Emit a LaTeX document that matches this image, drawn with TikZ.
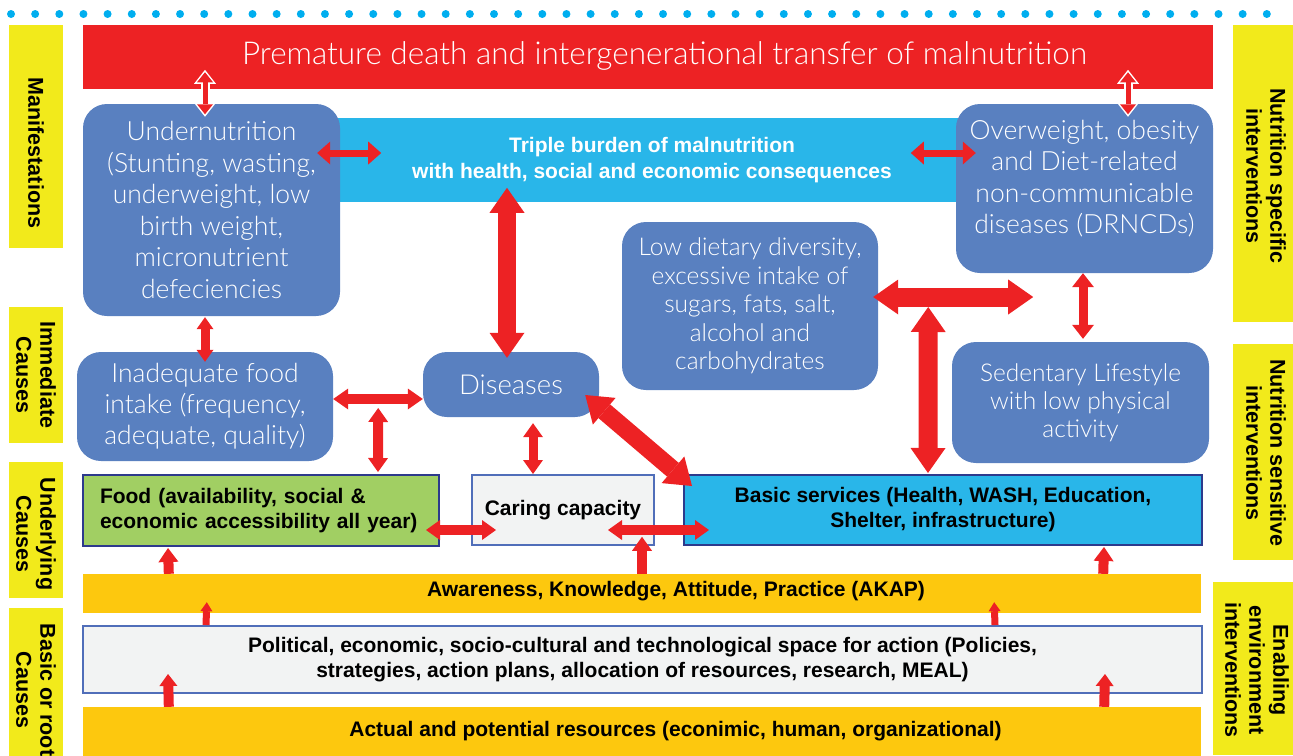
\documentclass[tikz,border=0pt]{standalone}
\usepackage{fontspec}
\setmainfont{Liberation Sans}
\newfontfamily\thinfont{Lato}[UprightFont=* Light]
\usetikzlibrary{arrows.meta,calc}

\definecolor{mred}{RGB}{237,34,36}
\definecolor{mblue}{RGB}{89,128,192}
\definecolor{mcyan}{RGB}{41,182,233}
\definecolor{mgreen}{RGB}{161,207,99}
\definecolor{mgrey}{RGB}{242,243,243}
\definecolor{myellow}{RGB}{242,234,27}
\definecolor{mgold}{RGB}{253,200,14}
\definecolor{mnavy}{RGB}{45,58,140}
\definecolor{medge}{RGB}{80,110,185}
\definecolor{mdot}{RGB}{0,174,239}

\newcommand\thinsize[2]{\thinfont\fontsize{#1}{#2}\selectfont}
\newcommand\boldsize[2]{\bfseries\fontsize{#1}{#2}\selectfont}

\tikzset{
  mbox/.style={fill=mblue, rounded corners=24pt, text=white, align=center, inner sep=0pt},
  mtext/.style={text=white, align=center, inner sep=0pt},
  ylab/.style={fill=myellow, inner sep=0pt},
  ylabtext/.style={rotate=-90, align=center, inner sep=0pt, font=\boldsize{21.5}{24}},
  bar/.style={fill=mgold, inner sep=0pt},
  btext/.style={align=center, inner sep=0pt, font=\boldsize{21}{25}},
  dbl/.style n args={3}{draw=mred, line width=#1,
    {Triangle[width=#2,length=#3,line width=0pt]}-{Triangle[width=#2,length=#3,line width=0pt]}},
  sgl/.style n args={3}{draw=mred, line width=#1,
    -{Triangle[width=#2,length=#3,line width=0pt]}},
  halo/.style={draw=white, line width=9pt,
    {Triangle[width=22pt,length=14pt,line width=0pt]}-{Triangle[width=22pt,length=14pt,line width=0pt]}},
}

\begin{document}
\begin{tikzpicture}[x=1pt,y=-1pt]
\useasboundingbox (0,0) rectangle (1293,755);

% dotted rule along the top
\foreach \i in {0,...,52}
  \fill[mdot] (11+\i*24.15,14) circle (4pt);

% level labels, left
\node[ylab, minimum width=54pt, minimum height=223pt] (l1) at (36,136.5) {};
\node[ylabtext] (l1t) at (36,153) {Manifestations};
\node[ylab, minimum width=54pt, minimum height=136pt] (l2) at (36,375) {};
\node[ylabtext] (l2t) at (36,375) {Immediate\\Causes};
\node[ylab, minimum width=54pt, minimum height=136pt] (l3) at (36,530) {};
\node[ylabtext] (l3t) at (36,534) {Underlying\\Causes};
\node[ylab, minimum width=54pt, minimum height=150pt] (l4) at (36,683) {};
\node[ylabtext] (l4t) at (36,690) {Basic or root\\Causes};

% intervention labels, right
\node[ylab, minimum width=62pt, minimum height=297pt] (r1) at (1264,173.5) {};
\node[ylabtext] (r1t) at (1266,176) {Nutrition specific\\interventions};
\node[ylab, minimum width=62pt, minimum height=216pt] (r2) at (1264,452) {};
\node[ylabtext] (r2t) at (1266,453) {Nutrition sensitive\\interventions};
\node[ylab, minimum width=82pt, minimum height=173pt] (r3) at (1254,668.5) {};
\node[ylabtext] (r3t) at (1257,670) {Enabling\\environment\\interventions};

% top outcome bar
\node[fill=mred, inner sep=0pt, minimum width=1130pt, minimum height=64pt] (top) at (648,57) {};
\node[mtext, font=\thinsize{31.5}{36}] (toptext) at (664.5,56) {Premature death and intergenerational transfer of malnutrition};

% triple burden band
\node[fill=mcyan, inner sep=0pt, minimum width=640pt, minimum height=84pt,
      text=white, align=center, font=\boldsize{21}{26}] (triple) at (652,160)
  {Triple burden of malnutrition\\with health, social and economic consequences};

% manifestation and immediate-cause boxes
\node[mbox, minimum width=257pt, minimum height=212pt, font=\thinsize{26.5}{31.5}] (under) at (211.5,210)
  {Undernutrition\\(Stunting, wasting,\\underweight, low\\birth weight,\\micronutrient\\defeciencies};
\node[mbox, minimum width=257pt, minimum height=169pt] (over) at (1084.5,188.5) {};
\node[mtext, font=\thinsize{26.5}{31.5}] (overtext) at (1084.5,178.5)
  {Overweight, obesity\\and Diet-related\\non-communicable\\diseases (DRNCDs)};
\node[mbox, minimum width=256pt, minimum height=168pt, font=\thinsize{24.5}{28.5}] (lowdiet) at (750,306)
  {Low dietary diversity,\\excessive intake of\\sugars, fats, salt,\\alcohol and\\carbohydrates};
\node[mbox, minimum width=257pt, minimum height=121pt, font=\thinsize{24.5}{28}] (sed) at (1080.5,402.5)
  {Sedentary Lifestyle\\with low physical\\activity};
\node[mbox, minimum width=256pt, minimum height=109pt, font=\thinsize{26.5}{31}] (inad) at (205,406.5)
  {Inadequate food\\intake (frequency,\\adequate, quality)};
\node[mbox, minimum width=176pt, minimum height=65pt, font=\thinsize{27.5}{30}] (dis) at (511,384.5) {Diseases};

% underlying causes
\node[draw=mnavy, line width=2pt, fill=mgreen, minimum width=356pt, minimum height=71pt,
      inner ysep=0pt, inner xsep=17pt, text width=322pt, align=left, font=\boldsize{21}{25}] (food) at (261,510.5)
  {Food (availability, social \&\\economic accessibility all year)};
\node[draw=medge, line width=2pt, fill=mgrey, minimum width=182pt, minimum height=70pt,
      inner sep=0pt, font=\boldsize{21}{25}] (caring) at (563,510) {Caring capacity};
\node[draw=mnavy, line width=2pt, fill=mcyan, minimum width=518pt, minimum height=70pt,
      inner sep=0pt, align=center, font=\boldsize{21}{25}] (basic) at (943,510)
  {Basic services (Health, WASH, Education,\\Shelter, infrastructure)};

% basic causes
\node[bar, minimum width=1118pt, minimum height=39pt] (akap) at (642,593.5) {};
\node[btext] (akaptext) at (676,591) {Awareness, Knowledge, Attitude, Practice (AKAP)};
\node[draw=medge, line width=2pt, fill=mgrey, minimum width=1119pt, minimum height=67pt,
      inner sep=0pt, align=center, font=\boldsize{21}{25}] (pol) at (642.5,659.5)
  {Political, economic, socio-cultural and technological space for action (Policies,\\strategies, action plans, allocation of resources, research, MEAL)};
\node[bar, minimum width=1118pt, minimum height=53pt] (res) at (642,733.5) {};
\node[btext] (restext) at (675.5,731) {Actual and potential resources (econimic, human, organizational)};

% links to the outcome bar
\draw[halo] ($(under.north)+(-6.5,-34)$) -- ($(under.north)+(-6.5,13)$);
\draw[dbl={5pt}{16pt}{10pt}, shorten <=2.5pt, shorten >=2.5pt] ($(under.north)+(-6.5,-34)$) -- ($(under.north)+(-6.5,13)$);
\draw[halo] ($(over.north)+(43.5,-34)$) -- ($(over.north)+(43.5,13)$);
\draw[dbl={5pt}{16pt}{10pt}, shorten <=2.5pt, shorten >=2.5pt] ($(over.north)+(43.5,-34)$) -- ($(over.north)+(43.5,13)$);

% links around the triple burden band
\draw[dbl={7pt}{23pt}{13pt}] ($(under.east)+(-23,-57)$) -- ($(under.east)+(41,-57)$);
\draw[dbl={7pt}{23pt}{13pt}] ($(over.west)+(-45,-35.5)$) -- ($(over.west)+(20,-35.5)$);
\draw[dbl={18pt}{35pt}{25pt}] ($(dis.north)+(-4,-164)$) -- ($(dis.north)+(-4,6)$);

% diet, lifestyle and services
\coordinate (fork) at ($(lowdiet.east)+(50,-9)$);
\draw[dbl={19pt}{35pt}{25pt}] ($(lowdiet.east)+(-5,-9)$) -- ($(lowdiet.east)+(155,-9)$);
\draw[dbl={19pt}{35pt}{25pt}] ($(fork)+(0,10)$) -- ($(basic.north)+(-15,-1)$);
\draw[dbl={9pt}{22pt}{14pt}] ($(over.south)+(-1.5,0)$) -- ($(sed.north)+(2.5,-3)$);

% immediate causes
\draw[dbl={9pt}{17pt}{12pt}] ($(under.south)+(-6.5,1)$) -- ($(inad.north)+(0,10)$);
\draw[dbl={10pt}{21pt}{15pt}] ($(inad.east)+(0,-7.5)$) -- ($(dis.west)+(0,14.5)$);
\draw[dbl={10pt}{20pt}{14pt}] ($(inad.east)+(45,1.5)$) -- ($(food.north)+(117,-2)$);
\draw[dbl={9pt}{20pt}{14pt}] ($(dis.south)+(22,6)$) -- ($(caring.north)+(-30,0)$);
\draw[dbl={18pt}{35pt}{25pt}] ($(dis.east)+(-14,10.5)$) -- ($(basic.north west)+(9,12)$);

% underlying causes
\draw[dbl={10pt}{20pt}{14pt}] ($(food.east)+(-14,19.5)$) -- ($(caring.west)+(25,20)$);
\draw[dbl={10pt}{20pt}{14pt}] ($(caring.east)+(-47,20)$) -- ($(basic.west)+(26,20)$);
\draw[sgl={10pt}{20pt}{14pt}] (akap.north) -- ($(akap.north)+(0,-37)$);
\draw[sgl={10pt}{20pt}{14pt}] ($(akap.north west)+(86,0)$) -- ($(food.south west)+(86,1)$);
\draw[sgl={10pt}{20pt}{14pt}] ($(akap.north east)+(-98,0)$) -- ($(basic.south east)+(-99,1)$);

% basic causes
\draw[sgl={7pt}{12pt}{9pt}] ($(pol.north west)+(124,0)$) -- ($(akap.south west)+(124,-11)$);
\draw[sgl={7pt}{12pt}{9pt}] ($(pol.north east)+(-208,0)$) -- ($(akap.south east)+(-207,-11)$);
\draw[sgl={10pt}{18pt}{12pt}] ($(res.north west)+(86,0)$) -- ($(pol.south west)+(86,-20)$);
\draw[sgl={10pt}{18pt}{12pt}] ($(res.north east)+(-97,0)$) -- ($(pol.south east)+(-98,-20)$);
\end{tikzpicture}
\end{document}
